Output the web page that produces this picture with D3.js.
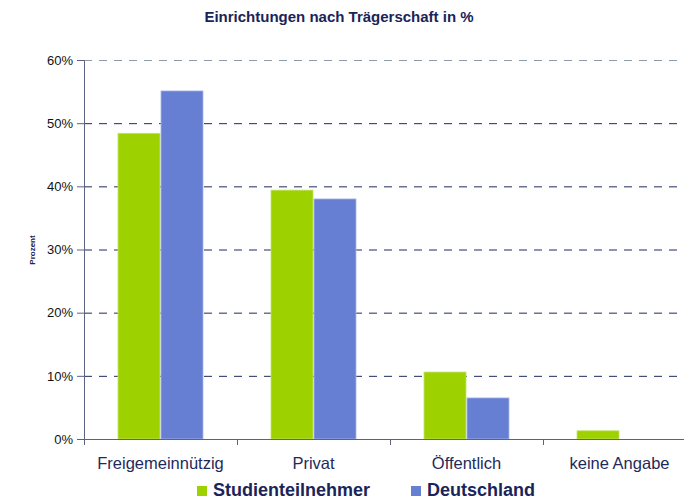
<!DOCTYPE html>
<html>
<head>
<meta charset="utf-8">
<script src="https://cdn.jsdelivr.net/npm/d3@7"></script>
<style>
  body { margin: 0; background: #fff; }
  svg { font-family: Arial, "Liberation Sans", sans-serif; }
</style>
</head>
<body>
<svg id="chart" width="684" height="499"></svg>
<script>
var categories = ["Freigemeinnützig", "Privat", "Öffentlich", "keine Angabe"];
var seriesNames = ["Studienteilnehmer", "Deutschland"];
var studienteilnehmer = [48.4, 39.4, 10.6, 1.3];
var deutschland = [55.1, 38.0, 6.5, 0];
var yTicks = [0, 10, 20, 30, 40, 50, 60];
var colors = ["#9dd100", "#677fd3"];

var margin = {top: 60, right: -12, bottom: 60, left: 84},
    width = 684 - margin.left - margin.right,
    height = 499 - margin.top - margin.bottom;

var svg = d3.select("#chart");
var g = svg.append("g")
    .attr("transform", "translate(" + margin.left + "," + margin.top + ")");

var x = d3.scaleBand().domain(categories).range([0, width]);
var y = d3.scaleLinear().domain([0, 60]).range([height, 0]);

var x1 = d3.scaleBand().domain(seriesNames).range([34, 120]).padding(0);

// title
svg.append("text")
    .attr("x", 339).attr("y", 22)
    .attr("text-anchor", "middle")
    .style("font-size", "15px").style("font-weight", "bold")
    .style("fill", "#1b2458")
    .text("Einrichtungen nach Trägerschaft in %");

// gridlines
g.selectAll(".grid")
    .data(yTicks.filter(function(d) { return d > 0; }))
    .enter().append("line")
    .attr("x1", 0).attr("x2", width)
    .attr("y1", function(d) { return y(d) + 0.5; })
    .attr("y2", function(d) { return y(d) + 0.5; })
    .attr("stroke", function(d) { return d == 60 ? "#8f9aa8" : "#1f2a60"; })
    .attr("stroke-width", 1)
    .attr("stroke-dasharray", "8,7");

// bars
var rows = categories.map(function(c, i) {
    return [studienteilnehmer[i], deutschland[i]];
});
var groups = g.selectAll(".cat")
    .data(rows)
    .enter().append("g")
    .attr("transform", function(d, i) { return "translate(" + x(categories[i]) + ",0)"; });

groups.selectAll("rect")
    .data(function(d) { return d.filter(function(v) { return v > 0; }).map(function(v, j) { return {s: seriesNames[j], v: v, j: j}; }); })
    .enter().append("rect")
    .attr("x", function(d) { return x1(d.s); })
    .attr("width", x1.bandwidth() - 1)
    .attr("y", function(d) { return y(d.v); })
    .attr("height", function(d) { return height - y(d.v); })
    .attr("fill", function(d) { return colors[d.j]; })
    .attr("stroke", function(d) { return d.j == 0 ? "#c3e46a" : "#a8b6ea"; })
    .attr("stroke-width", 0.8);

// y axis
var yAxis = d3.axisLeft(y)
    .tickValues(yTicks)
    .tickFormat(function(d) { return d + "%"; })
    .tickSize(7).tickPadding(4);
var ya = g.append("g").call(yAxis);
ya.select(".domain").attr("stroke", "#5b6282").attr("d", "M-7,0.5H0.5V" + (height + 0.5));
ya.selectAll(".tick line").attr("stroke", "#5b6282").attr("x2", 0).attr("x1", -7);
ya.selectAll(".tick text").style("font-size", "13px").style("fill", "#111")
    .attr("font-family", null);

// x axis
var xa = g.append("g")
    .attr("transform", "translate(0," + height + ")")
    .call(d3.axisBottom(x).tickSize(0).tickPadding(18));
xa.select(".domain").attr("stroke", "#5b6282");
xa.selectAll(".tick text").style("font-size", "16.5px").style("fill", "#1f2a5a")
    .attr("font-family", null);
g.selectAll(".xt")
    .data(d3.range(categories.length + 1))
    .enter().append("line")
    .attr("x1", function(i) { return Math.round(i * x.step()) + 0.5; })
    .attr("x2", function(i) { return Math.round(i * x.step()) + 0.5; })
    .attr("y1", height).attr("y2", height + 6)
    .attr("stroke", "#5b6282");

// y label
svg.append("text")
    .attr("transform", "translate(35,250) rotate(-90)")
    .attr("text-anchor", "middle")
    .style("font-size", "8px").style("font-weight", "bold")
    .style("fill", "#1b2458")
    .text("Prozent");

// legend
var legendX = [197, 411];
var lg = svg.selectAll(".legend")
    .data(seriesNames)
    .enter().append("g")
    .attr("transform", function(d, i) { return "translate(" + legendX[i] + ",486)"; });
lg.append("rect").attr("width", 10).attr("height", 10)
    .attr("fill", function(d, i) { return colors[i]; });
lg.append("text").attr("x", 16).attr("y", 10)
    .style("font-size", "18px").style("font-weight", "bold")
    .style("fill", "#1b2458")
    .text(function(d) { return d; });
</script>
</body>
</html>
